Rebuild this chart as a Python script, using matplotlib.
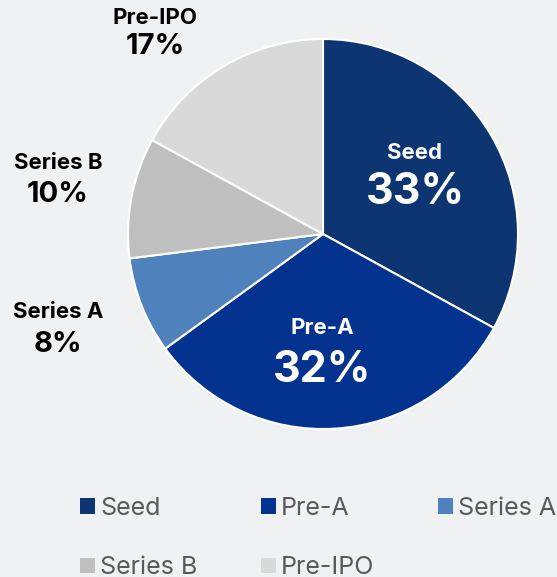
import matplotlib.pyplot as plt

plt.rcParams['font.family'] = ['Inter', 'DejaVu Sans']

stages = ['Seed', 'Pre-A', 'Series A', 'Series B', 'Pre-IPO']
shares = [33, 32, 8, 10, 17]
colors = ['#0c3571', '#03338e', '#4f81bd', '#bfbfbf', '#d9d9d9']

W, H = 557, 577
fig = plt.figure(figsize=(W / 100, H / 100), dpi=100)
fig.patch.set_facecolor('#f0f1f3')
ax = fig.add_axes([0, 0, 1, 1])
ax.set_xlim(0, W)
ax.set_ylim(0, H)
ax.set_aspect('equal')
ax.axis('off')

cx, cy, r = 323, H - 234, 195
wedges, _ = ax.pie(shares, colors=colors, startangle=90, counterclock=False,
                   center=(cx, cy), radius=r,
                   wedgeprops=dict(edgecolor='white', linewidth=1.5))
ax.set_xlim(0, W)
ax.set_ylim(0, H)

# labels inside the two big slices
inside = {'Seed': (415, 153, 193), 'Pre-A': (322, 328, 370)}
# labels outside the small slices
outside = {'Series A': (58, 312, 345), 'Series B': (58, 163, 195), 'Pre-IPO': (155, 18, 47)}

for name, val in zip(stages, shares):
    if name in inside:
        x, y1, y2 = inside[name]
        ax.text(x, H - y1, name, color='white', fontsize=16, fontweight='bold',
                ha='center', va='center')
        ax.text(x, H - y2, f'{val}%', color='white', fontsize=31, fontweight='bold',
                ha='center', va='center')
    else:
        x, y1, y2 = outside[name]
        ax.text(x, H - y1, name, color='black', fontsize=16, fontweight='bold',
                ha='center', va='center')
        ax.text(x, H - y2, f'{val}%', color='black', fontsize=21, fontweight='bold',
                ha='center', va='center')

# legend fills column by column, so reorder to read row by row
order = [0, 3, 1, 4, 2]
leg = fig.legend([wedges[i] for i in order], [stages[i] for i in order],
                 ncol=3, loc='upper left',
                 bbox_to_anchor=(80 / W, 1 - 497 / H), frameon=False,
                 fontsize=18, handlelength=0.6, handleheight=0.6,
                 handletextpad=0.2, columnspacing=2.55, labelspacing=1.45,
                 borderaxespad=0, borderpad=0)
for t in leg.get_texts():
    t.set_color('#595959')
for h in leg.legend_handles:
    h.set_edgecolor('none')

fig.savefig('out.png', dpi=100, facecolor=fig.get_facecolor())
